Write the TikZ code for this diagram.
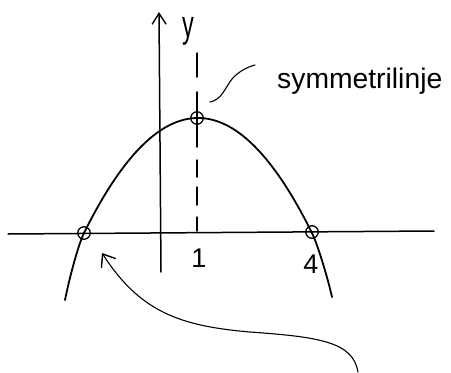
\documentclass[tikz,border=0pt]{standalone}
\usepackage{graphicx}
\usepackage{fontspec}
\setmainfont{Liberation Sans}
\usetikzlibrary{arrows.meta}
\begin{document}
\begin{tikzpicture}[x=1pt,y=-1pt,line cap=round,line join=round,
  ink/.style={line width=1.5pt,black},
  thinink/.style={line width=1.1pt,black},
  curveink/.style={line width=1.8pt,black},
  ptmark/.style={circle,draw,line width=1.3pt,minimum size=12.5pt,inner sep=0pt},
  lbl/.style={inner sep=0pt,font=\fontsize{27}{27}\selectfont}]
\useasboundingbox (0,0) rectangle (451,373);
% axes
\coordinate (xl) at (8,234);
\coordinate (xr) at (434,231);
\coordinate (yb) at (161,272);
\coordinate (yt) at (159,12);
\draw[ink] (xl) -- (xr);
\draw[ink,-{Straight Barb[length=11pt,width=14pt,line width=1.4pt]}] (yb) -- (yt);
\node[inner sep=0pt,font=\fontsize{38}{38}\selectfont] (ylab) at (188,31) {\scalebox{0.62}[1]{y}};
% symmetry line (hand-drawn dashes)
\draw[ink] (197,53) -- (197,77) (197,92) -- (197,147) (197,160) -- (197,177)
  (197,187) -- (197,205) (197,217) -- (197,231);
% parabola
\draw[curveink] plot[domain=84:312,samples=80,variable=\t] ({\t},{233-0.00885*(\t-84)*(312-\t)});
\draw[curveink] (84,233) .. controls (79,243) and (70,275) .. (65,300);
\draw[curveink] (312,233) .. controls (317,243) and (327,275) .. (332,297);
% marked points
\node[ptmark] (v) at (197,118) {};
\node[ptmark] (r1) at (84,233) {};
\node[ptmark] (r2) at (312,232) {};
% tick labels
\node[lbl] (one) at (199,258) {1};
\node[lbl] (four) at (311,264) {4};
% label symmetrilinje and its pointer
\node[anchor=base west,inner sep=0pt,font=\fontsize{28.3}{28.3}\selectfont] (sym) at (277,88) {symmetrilinje};
\coordinate (p0) at (210,102);
\coordinate (pm) at (232,79);
\coordinate (p1) at (255,65);
\draw[thinink] (p0) .. controls (222,100) and (226,86) .. (pm) .. controls (238,72) and (247,67) .. (p1);
% curved arrow towards the left root
\coordinate (a0) at (358,372);
\coordinate (am) at (250,332);
\coordinate (tip) at (102,253);
\draw[thinink,-{Straight Barb[length=11pt,width=17pt,line width=1.4pt]}] (a0) .. controls (353,342) and (320,337) .. (am) .. controls (180,326) and (140,312) .. (tip);
\end{tikzpicture}
\end{document}
